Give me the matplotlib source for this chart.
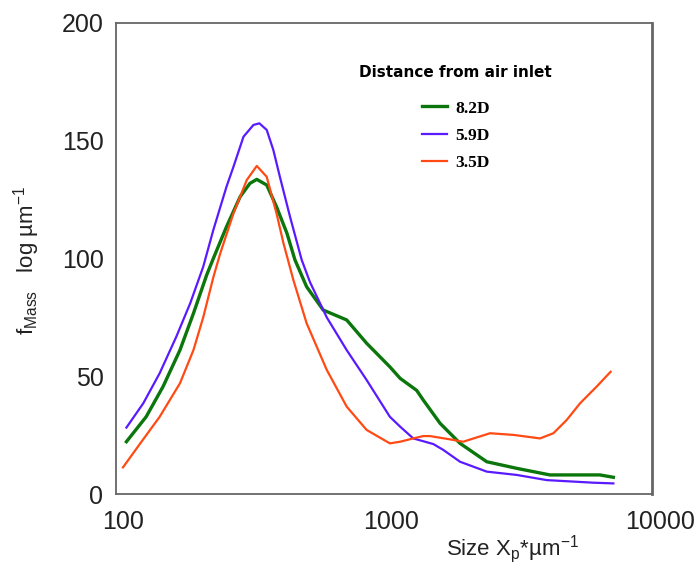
import matplotlib
matplotlib.use("Agg")
import matplotlib.pyplot as plt

plt.rcParams['font.family'] = ['Liberation Sans', 'DejaVu Sans']
plt.rcParams['mathtext.fontset'] = 'custom'
plt.rcParams['mathtext.rm'] = 'Liberation Sans'

# size (um) and f_mass values
x_82 = [103, 122, 141, 163, 183, 205, 217, 243, 273, 297, 315, 343, 373, 408, 437, 483, 557, 681,
        808, 986, 1077, 1241, 1313, 1517, 1800, 2263, 2925, 3890, 5970, 6702]
y_82 = [22.2, 32.8, 45.6, 61.1, 76.7, 93, 100, 113.5, 126.2, 131.9, 133.6, 131.2, 122, 110.7, 99.4, 88, 78.1, 73.9,
        64, 54, 49.1, 44, 39.9, 30, 21.5, 13.7, 10.9, 8.1, 8.1, 7.1]

x_59 = [103, 119, 137, 158, 178, 199, 217, 243, 258, 281, 306, 322, 343, 363, 384, 419, 463, 497, 574,
        681, 808, 986, 1077, 1205, 1432, 1560, 1800, 2263, 2925, 3784, 5646, 6702]
y_59 = [28.2, 38.5, 51.3, 66.8, 81, 96.5, 112.1, 130.5, 139, 151.7, 156.7, 157.4, 154.6, 146.1, 134.7, 117.7, 99.4, 90, 75,
        61.1, 48.4, 32.8, 28.6, 23.6, 21.2, 18.7, 13.7, 9.5, 8.1, 5.9, 4.8, 4.5]

x_35 = [100, 116, 137, 163, 183, 199, 217, 230, 258, 289, 315, 343, 373, 396, 431, 483, 574, 681, 808,
        986, 1077, 1205, 1313, 1390, 1652, 1849, 2328, 2844, 3573, 4007, 4490, 5036, 5806, 6545]
y_35 = [11.3, 21.5, 32.8, 47, 61.1, 75, 92, 102, 119.2, 133.3, 139.3, 134.7, 119.2, 106.5, 90.9, 72.5, 52.7, 37.1, 27.2,
        21.5, 22.2, 23.6, 24.6, 24.6, 23.2, 22.2, 25.8, 25.1, 23.6, 25.8, 31.4, 38.5, 45.6, 51.9]

xtick_vals = [100, 1000, 10000]
ytick_vals = [0, 50, 100, 150, 200]

fig = plt.figure(figsize=(6.98, 5.67), dpi=100)
ax = fig.add_axes([116/698, 73/567, 536/698, 471/567])

ax.plot(x_82, y_82, color='#0b760b', lw=2.4, label='8.2D', solid_joinstyle='round')
ax.plot(x_59, y_59, color='#5a1aff', lw=1.6, label='5.9D', solid_joinstyle='round')
ax.plot(x_35, y_35, color='#ff4a14', lw=1.6, label='3.5D', solid_joinstyle='round')

ax.set_xscale('log')
ax.set_xlim(94.2, 9335)
ax.set_ylim(0, 200)

for s in ax.spines.values():
    s.set_color('#666666')
    s.set_linewidth(1.3)
ax.spines['right'].set_linewidth(2)

ax.set_yticks(ytick_vals)
ax.set_yticklabels([str(v) for v in ytick_vals], fontsize=18, color='#222222')
ax.tick_params(axis='y', length=0, pad=9)
ax.set_xticks([])
ax.minorticks_off()
for v in xtick_vals:
    ax.text(v, -0.06, str(v), transform=ax.get_xaxis_transform(), ha='center', va='center',
            fontsize=18, color='#222222', clip_on=False)

fig.text(512/698, 1 - 549/567, r'Size X$_\mathregular{p}$*µm$^{\mathregular{-1}}$',
         ha='center', va='center', fontsize=16, color='#222222')
fig.text(27/698, 1 - 260/567, r'$\mathregular{f}_{\mathregular{Mass}}$   log µm$^{\mathregular{-1}}$',
         ha='center', va='center', rotation=90, fontsize=16, color='#222222')

leg = ax.legend(loc='upper center', bbox_to_anchor=(0.634, 0.945), frameon=False,
                title='Distance from air inlet',
                title_fontproperties={'family': 'DejaVu Sans', 'weight': 'bold', 'size': 11},
                prop={'family': 'Liberation Serif', 'weight': 'bold', 'size': 12.5},
                handlelength=1.45, labelspacing=0.65, handletextpad=0.46)
leg._legend_box.sep = 15

fig.savefig('out.png', dpi=100)
